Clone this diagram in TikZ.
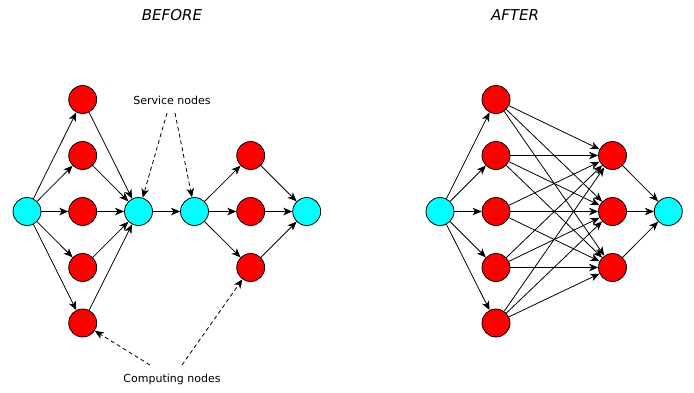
\documentclass[tikz,border=0pt]{standalone}
\usepackage{fontspec}
\setmainfont{DejaVu Sans}
\usetikzlibrary{arrows.meta}
\definecolor{nodered}{HTML}{FF0000}
\definecolor{nodecyan}{HTML}{00FFFF}
\begin{document}
\begin{tikzpicture}[x=1pt,y=-1pt,
  base/.style={circle,draw=black,line width=0.8pt,minimum size=28pt,inner sep=0pt},
  svc/.style={base,fill=nodecyan},
  cmp/.style={base,fill=nodered},
  edge/.style={line width=0.8pt,-{Stealth[length=9pt,width=7.5pt,inset=2.5pt]}},
  dedge/.style={edge,dashed,dash pattern=on 4pt off 3pt},
  title/.style={font=\fontsize{15}{18}\selectfont\itshape},
  lbl/.style={font=\fontsize{11}{13}\selectfont}]
\useasboundingbox (0,0) rectangle (694,392);
% BEFORE
\node[title] (tb) at (172,15) {BEFORE};
\node[svc] (c1) at (27,211.5) {};
\node[cmp] (r1) at (82.7,99.5) {};
\node[cmp] (r2) at (82.7,155.5) {};
\node[cmp] (r3) at (82.7,211.5) {};
\node[cmp] (r4) at (82.7,267.5) {};
\node[cmp] (r5) at (82.7,323) {};
\node[svc] (c2) at (138.5,211.5) {};
\node[svc] (c3) at (194.5,211.5) {};
\node[cmp] (s1) at (250.7,155.5) {};
\node[cmp] (s2) at (250.7,211.5) {};
\node[cmp] (s3) at (250.7,267.5) {};
\node[svc] (c4) at (306.7,211.5) {};
\foreach \r in {r1,r2,r3,r4,r5} {
  \draw[edge] (c1) -- (\r);
  \draw[edge] (\r) -- (c2);
}
\draw[edge] (c2) -- (c3);
\foreach \r in {s1,s2,s3} {
  \draw[edge] (c3) -- (\r);
  \draw[edge] (\r) -- (c4);
}
\node[lbl] (ls) at (172,100) {Service nodes};
\coordinate (ls1) at (167,113);
\coordinate (ls2) at (175,113);
\draw[dedge] (ls1) -- (c2.73);
\draw[dedge] (ls2) -- (c3.100);
\node[lbl] (lc) at (172,379) {Computing nodes};
\coordinate (lc1) at (150,365);
\coordinate (lc2) at (182,365);
\draw[dedge] (lc1) -- (r5.-33);
\draw[dedge] (lc2) -- (s3.235);
% AFTER
\node[title] (ta) at (515,15) {AFTER};
\node[svc] (d1) at (440,211.5) {};
\node[cmp] (a1) at (496,99.5) {};
\node[cmp] (a2) at (496,155.5) {};
\node[cmp] (a3) at (496,211.5) {};
\node[cmp] (a4) at (496,267.5) {};
\node[cmp] (a5) at (496,323) {};
\node[cmp] (b1) at (612.5,155.5) {};
\node[cmp] (b2) at (612.5,211.5) {};
\node[cmp] (b3) at (612.5,267.5) {};
\node[svc] (d2) at (668.3,211.5) {};
\foreach \a in {a1,a2,a3,a4,a5} {
  \draw[edge] (d1) -- (\a);
  \foreach \b in {b1,b2,b3} {
    \draw[edge] (\a) -- (\b);
  }
}
\foreach \b in {b1,b2,b3} {
  \draw[edge] (\b) -- (d2);
}
\end{tikzpicture}
\end{document}
